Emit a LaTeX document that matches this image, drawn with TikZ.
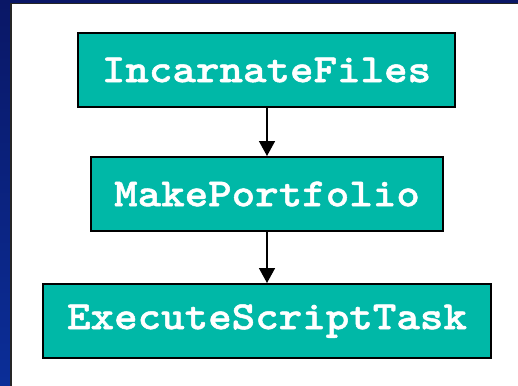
\documentclass[tikz,border=0pt]{standalone}
\usepackage{fontspec}
\newfontfamily\boxfont{lmmonolt10-bold.otf}[FakeStretch=1.12, FakeBold=1.2]
\usetikzlibrary{arrows.meta}
\definecolor{navytop}{HTML}{0A1766}
\definecolor{navybot}{HTML}{0B2E98}
\definecolor{tealfill}{HTML}{00B8A7}
\definecolor{edgegrey}{HTML}{262626}
\tikzset{
  stage/.style={draw=black, line width=2bp, fill=tealfill, text=white,
    minimum height=74bp, inner sep=0pt,
    font=\boxfont\fontsize{40bp}{42bp}\selectfont},
  flow/.style={line width=1.6bp, -{Triangle[width=16bp,length=15bp]}}
}
\begin{document}
\begin{tikzpicture}[x=1bp,y=-1bp]
  % slide background and white panel
  \shade[top color=navytop, bottom color=navybot] (0,0) rectangle (518,385);
  \useasboundingbox (0,0) rectangle (518,385);
  \fill[white] (11,3.5) rectangle (522,389);
  \draw[edgegrey, line width=1.2bp] (11,389) -- (11,3.5) -- (522,3.5);

  % process stages
  \node[stage, minimum width=377bp] (incarnate) at (266.5,70) {IncarnateFiles};
  \node[stage, minimum width=352bp] (portfolio) at (267,194) {MakePortfolio};
  \node[stage, minimum width=448bp] (execute) at (267,321) {ExecuteScriptTask};

  % connectors
  \draw[flow] (incarnate.south -| 267,0) -- (portfolio.north -| 267,0);
  \draw[flow] (portfolio) -- (execute);
\end{tikzpicture}
\end{document}
